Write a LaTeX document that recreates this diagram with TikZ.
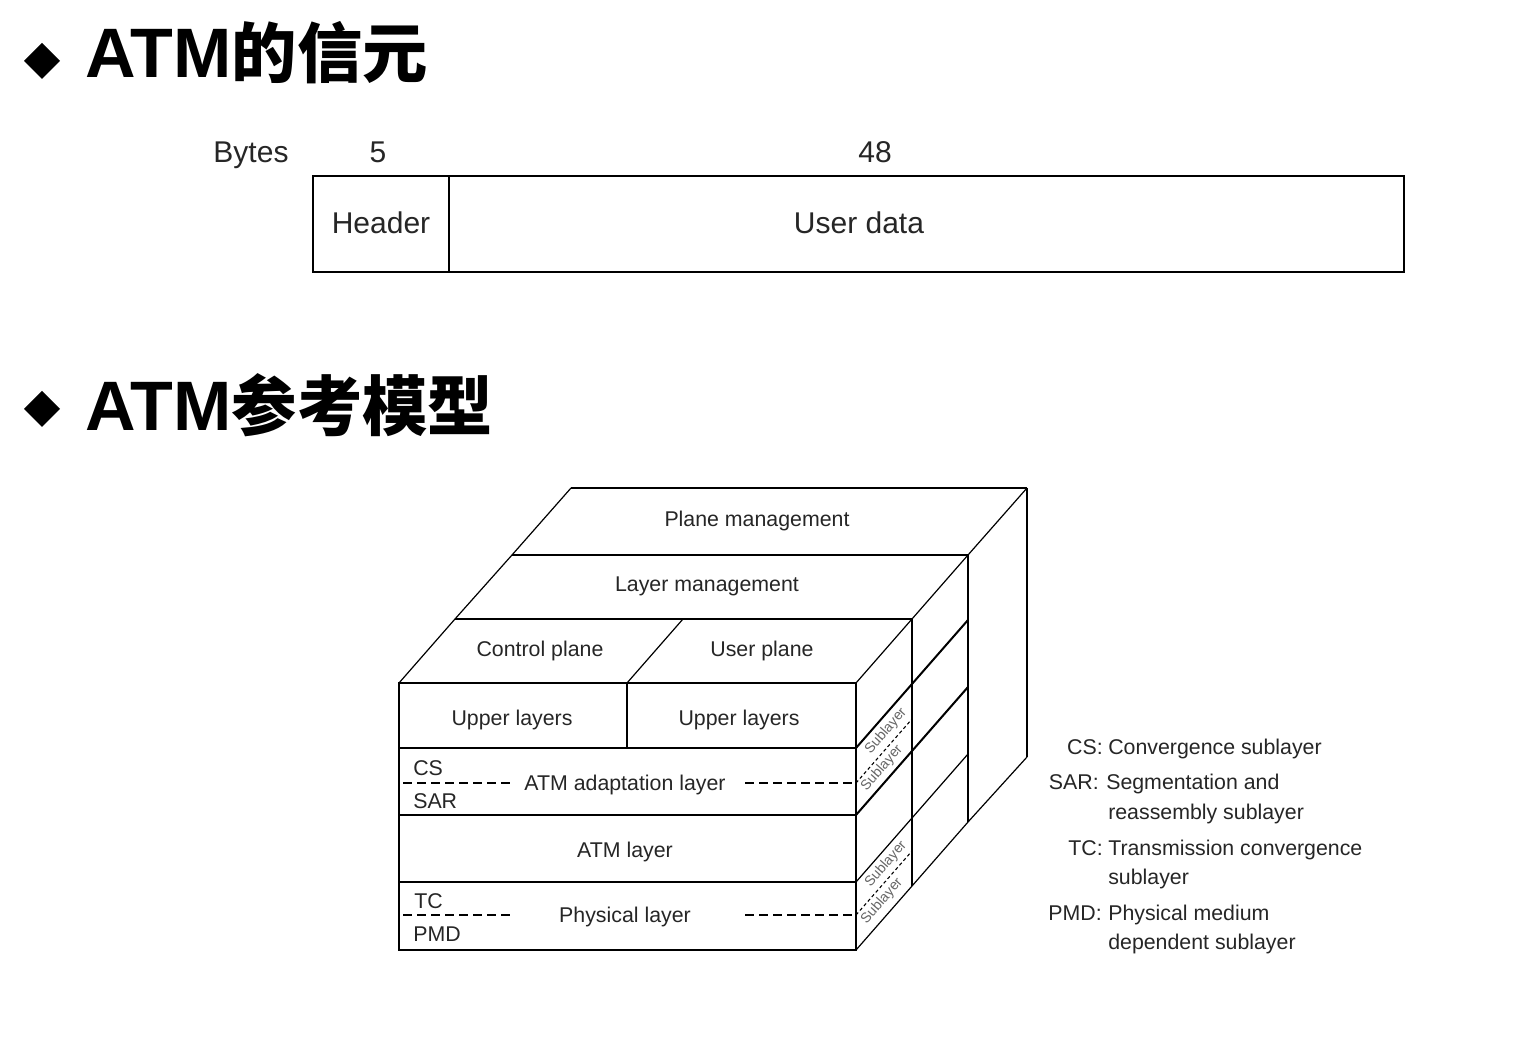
\documentclass[tikz,border=0pt]{standalone}
\usepackage{fontspec}
\setmainfont{Liberation Sans}
\newfontfamily\cjk{Noto Sans CJK SC}
\begin{document}
\begin{tikzpicture}[x=0.75pt,y=-0.75pt,
  tl/.style={line width=1.5pt},
  thn/.style={line width=0.9pt},
  dsh/.style={line width=1.2pt, dash pattern=on 7pt off 3.5pt},
  dshs/.style={line width=0.8pt, dash pattern=on 2.5pt off 2pt},
  lbl/.style={font=\fontsize{16}{19}\selectfont, text=black!85, inner sep=0pt, text height=11.5pt, text depth=0pt},
  big/.style={font=\fontsize{22.5}{27}\selectfont, text=black!85, inner sep=0pt, text height=16pt, text depth=0pt},
  subl/.style={font=\fontsize{10.5}{12}\selectfont, text=black!60, rotate=48.8, inner sep=0pt},
  leg/.style={font=\fontsize{16}{19}\selectfont, text=black!85, inner sep=0pt},
  ttl/.style={anchor=base west, inner sep=0pt, font=\fontsize{52.5}{60}\selectfont\bfseries}
]
\fill[white] (0,0) rectangle (1513,1044);
\useasboundingbox (0,0) rectangle (1513,1044);

% titles
\fill (42,43) -- (60,61) -- (42,79) -- (24,61) -- cycle;
\node[ttl] (t1) at (85,78) {ATM{\cjk\fontsize{49}{56}\selectfont\bfseries 的信元}};
\fill (42,391) -- (60,409) -- (42,427) -- (24,409) -- cycle;
\node[ttl] (t2) at (85,431) {ATM{\cjk\fontsize{49}{56}\selectfont\bfseries 参考模型}};

% cell format
\node[big] (bytes) at (251,152) {Bytes};
\node[big] (five) at (378,152) {5};
\node[big] (fortyeight) at (875,152) {48};
\draw[tl] (313,176) rectangle (1404,272);
\draw[tl] (449,176) -- (449,272);
\node[big] (hdr) at (381,223) {Header};
\node[big] (ud) at (859,223) {User data};

% cube: front face
\draw[tl] (399,683) rectangle (856,950);
\draw[tl] (399,748) -- (856,748);
\draw[tl] (399,815) -- (856,815);
\draw[tl] (399,882) -- (856,882);
\draw[tl] (627,683) -- (627,748);
% top faces
\draw[tl] (455,619) -- (912,619);
\draw[tl] (512,555) -- (968,555);
\draw[tl] (571,488) -- (1027,488);
\draw[thn] (399,683) -- (455,619) -- (512,555) -- (571,488);
\draw[thn] (627,683) -- (683,619);
\draw[thn] (856,683) -- (912,619) -- (968,555) -- (1027,488);
% right faces
\draw[tl] (912,619) -- (912,886);
\draw[tl] (968,555) -- (968,822);
\draw[tl] (1027,488) -- (1027,757);
\draw[thn] (856,950) -- (912,886) -- (968,822) -- (1027,757);
\draw[tl] (856,748) -- (912,684) -- (968,620);
\draw[tl] (856,815) -- (912,751) -- (968,687);
\draw[thn] (856,882) -- (912,818) -- (968,754);
% dashed sublayer separators
\draw[dsh] (403,783) -- (512,783);
\draw[dsh] (745,783) -- (856,783);
\draw[dshs] (856,783) -- (912,719);
\draw[dsh] (403,915) -- (512,915);
\draw[dsh] (745,915) -- (856,915);
\draw[dshs] (856,915) -- (912,851);

% cube labels
\node[lbl] (pm) at (757,519) {Plane management};
\node[lbl] (lm) at (707,584) {Layer management};
\node[lbl] (cp) at (540,649) {Control plane};
\node[lbl] (up) at (762,649) {User plane};
\node[lbl] (ul1) at (512,718) {Upper layers};
\node[lbl] (ul2) at (739,718) {Upper layers};
\node[lbl, anchor=west] (cs) at (413,768) {CS};
\node[lbl, anchor=west] (sar) at (413,801) {SAR};
\node[lbl] (aal) at (625,783) {ATM adaptation layer};
\node[lbl] (atm) at (625,850) {ATM layer};
\node[lbl, anchor=west] (tc) at (414,901) {TC};
\node[lbl, anchor=west] (pmd) at (413,934) {PMD};
\node[lbl] (phy) at (625,915) {Physical layer};
\node[subl] (s1) at (886,731) {Sublayer};
\node[subl] (s2) at (882,768) {Sublayer};
\node[subl] (s3) at (886,864) {Sublayer};
\node[subl] (s4) at (882,901) {Sublayer};

% legend
\node[leg, anchor=base east] (l1) at (1103,754) {CS:};
\node[leg, anchor=base west] (d1) at (1108,754) {Convergence sublayer};
\node[leg, anchor=base east] (l2) at (1099,789) {SAR:};
\node[leg, anchor=base west] (d2) at (1106,789) {Segmentation and};
\node[leg, anchor=base west] (d2b) at (1108,819) {reassembly sublayer};
\node[leg, anchor=base east] (l3) at (1103,855) {TC:};
\node[leg, anchor=base west] (d3) at (1108,855) {Transmission convergence};
\node[leg, anchor=base west] (d3b) at (1108,884) {sublayer};
\node[leg, anchor=base east] (l4) at (1102,920) {PMD:};
\node[leg, anchor=base west] (d4) at (1108,920) {Physical medium};
\node[leg, anchor=base west] (d4b) at (1108,949) {dependent sublayer};
\end{tikzpicture}
\end{document}
